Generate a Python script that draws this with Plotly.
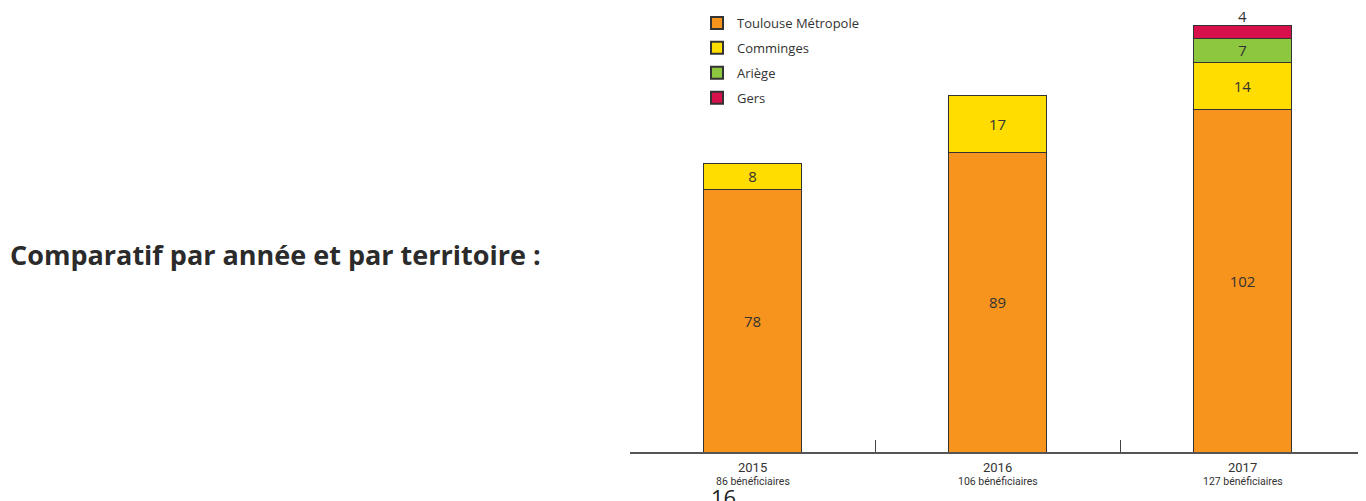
import plotly.graph_objects as go

years = ["2015", "2016", "2017"]
totals_labels = ["86 bénéficiaires", "106 bénéficiaires", "127 bénéficiaires"]
toulouse = [78, 89, 102]
comminges = [8, 17, 14]
ariege = [None, None, 7]
gers = [None, None, 4]

series = [
    ("Toulouse Métropole", toulouse, "#F7941D"),
    ("Comminges", comminges, "#FFDD00"),
    ("Ariège", ariege, "#8DC63F"),
    ("Gers", gers, "#D7104C"),
]

# page body has an 8px margin: work in figure coordinates = window - 8
OFF = 8
W, H = 1366 - OFF, 501 - OFF
L = 630 - OFF
plot_w = 735
R = W - L - plot_w
base = 452 - OFF           # axis baseline in figure px
PX_PER_UNIT = 3.36

xs = list(range(len(years)))
fig = go.Figure()
n = len(series)
for i, (name, vals, color) in enumerate(series):
    top = i == n - 1
    fig.add_trace(go.Bar(
        x=xs, y=vals, name=name, legendgroup=f"g{i}",
        marker=dict(color=color, line=dict(color="#333333", width=1)),
        width=0.396,
        text=None if top else [("" if v is None else str(v)) for v in vals],
        textposition="inside", insidetextanchor="middle", textangle=0,
        constraintext="none",
        textfont=dict(family="Open Sans", size=15, color="#333333"),
        cliponaxis=False,
    ))


def px_x(xw):
    return (xw - OFF - L) / plot_w


def px_y(yw):
    return (base - (yw - OFF)) / base


annotations = [
    dict(text="<b>Comparatif par année et par territoire :</b>", xref="paper", yref="paper",
         x=px_x(8), y=px_y(254), xanchor="left", yanchor="middle",
         showarrow=False, font=dict(family="Open Sans", size=27, color="#2b2b2b")),
    dict(text="16", xref="paper", yref="paper", x=px_x(723), y=px_y(497),
         xanchor="center", yanchor="middle", showarrow=False,
         font=dict(family="Open Sans", size=22, color="#222222")),
]
# label of the top (Gers) segment sits above the stack
for i in xs:
    if gers[i] is not None:
        total = sum(s[1][i] or 0 for s in series)
        annotations.append(dict(text=str(gers[i]), x=i, y=total, xref="x", yref="y",
                                yanchor="bottom", yshift=-3, showarrow=False,
                                font=dict(family="Open Sans", size=15, color="#333333")))
for i, (yr, lab) in enumerate(zip(years, totals_labels)):
    annotations.append(dict(text=yr, x=i, y=0, xref="x", yref="y", yshift=-15, showarrow=False,
                            yanchor="middle", font=dict(family="Roboto", size=13, color="#333333")))
    annotations.append(dict(text=lab, x=i, y=0, xref="x", yref="y", yshift=-29, showarrow=False,
                            yanchor="middle", font=dict(family="Roboto", size=10.5, color="#333333")))

fig.update_layout(
    width=W, height=H,
    margin=dict(l=L, r=R, t=0, b=H - base, autoexpand=False),
    barmode="stack",
    plot_bgcolor="white", paper_bgcolor="white",
    showlegend=True,
    legend=dict(x=px_x(697), y=px_y(8), xanchor="left", yanchor="top",
                traceorder="grouped", font=dict(family="Open Sans", size=13, color="#333333"),
                itemsizing="constant", tracegroupgap=5, bgcolor="rgba(0,0,0,0)"),
    xaxis=dict(range=[-0.5, 2.5], tickvals=[0.5, 1.5], ticks="inside", ticklen=12,
               tickcolor="#444444", tickwidth=1.2, showticklabels=False, showgrid=False,
               zeroline=False, showline=True, linecolor="#555555", linewidth=1.5),
    yaxis=dict(range=[0, base / PX_PER_UNIT], visible=False, showgrid=False, zeroline=False),
    annotations=annotations,
)

fig.write_html("out.html")
